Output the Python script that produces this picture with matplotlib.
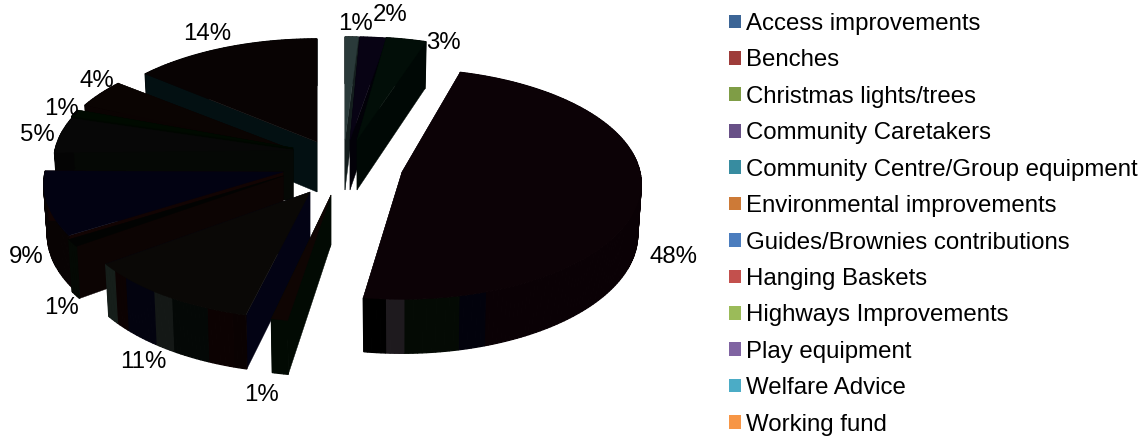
import numpy as np
import matplotlib
matplotlib.use('Agg')
import matplotlib.pyplot as plt
from matplotlib.patches import Patch, Polygon

plt.rcParams['font.family'] = ['Liberation Sans', 'DejaVu Sans']

categories = ['Access improvements', 'Benches', 'Christmas lights/trees', 'Community Caretakers',
	'Community Centre/Group equipment', 'Environmental improvements', 'Guides/Brownies contributions',
	'Hanging Baskets', 'Highways Improvements', 'Play equipment', 'Welfare Advice', 'Working fund']
values = [1, 2, 3, 48, 1, 11, 1, 9, 5, 1, 4, 14]

legend_colors = ['#3c6596', '#9e3c3a', '#7f9d46', '#685087', '#378ca0', '#cd7a37',
	'#4b7dbe', '#c3504d', '#9bbb59', '#8064a2', '#4bacc6', '#f79646']
top_colors = ['#2a3a3a', '#080314', '#020e08', '#0c0206', '#0f0503', '#0a0806',
	'#020302', '#020212', '#070707', '#000a00', '#0a0402', '#080303']
wall_colors = ['#141e1e', '#020108', '#000805', '#0a0105', '#020a03', '#030314',
	'#0c0403', '#120403', '#050805', '#000600', '#0a0302', '#031012']
rim_colors = ['#141c1c', '#050210', '#010704', '#0a0105', '#020a03', '#0a0202',
	'#040904', '#080303', '#040404', '#000500', '#060201', '#030303']

# where each exploded slice has its point, and how far its angles drift in the warped 3d view
apex_x = [345, 350, 357, 402, 331, 310, 283, 283, 293, 293, 293, 317]
apex_y = [140, 140, 140, 172, 195, 192, 176, 172, 150, 148, 150, 142]
twist = [0, -1, -3, -6, -5, -4, -3, -3, -5, -5, -1, 0]
draw_order = [11, 0, 1, 2, 10, 9, 8, 7, 6, 5, 4, 3]

# colour bands on the rim, degrees back from the end of the slice
rim_bands = {
	3: [(5, '#000000'), (4, '#1e1a1e'), (12, '#040a04'), (6, '#02020c')],
	5: [(4, '#161e1a'), (4, '#0c0202'), (9, '#03030f'), (5, '#141816'), (9, '#040806'), (6, '#0c0202')],
}

label_x = [356, 390, 443, 674, 261, 143, 62, 26, 37, 62, 97, 207]
label_y = [24, 15, 43, 257, 395, 362, 308, 257, 135, 109, 81, 34]

RX = 238
RY = 114
P = 0.105
H = 50
SHRINK = 0.015


def project(x0, y0, t, r=1, z=0):
	rad = np.radians(t)
	x = r*np.sin(rad)
	y = r*np.cos(rad)
	d = 1 + P*y
	s = 1 - SHRINK*z
	return x0 + RX*x/d*s, y0 - RY*y/d*s + H*z/d


def rim_color(i, t, t1):
	back = t1 - t
	if i in rim_bands:
		total = 0
		for width, color in rim_bands[i]:
			total += width
			if back <= total:
				return color
	return rim_colors[i]


def draw_wall(ax, i, t):
	x0, y0 = apex_x[i], apex_y[i]
	wall = [project(x0, y0, t, 0), project(x0, y0, t), project(x0, y0, t, 1, 1), project(x0, y0, t, 0, 1)]
	ax.add_patch(Polygon(wall, closed=True, facecolor=wall_colors[i], edgecolor=wall_colors[i], lw=0.3))


def draw_slice(ax, i, t0, t1):
	x0, y0 = apex_x[i], apex_y[i]
	angles = np.append(np.arange(t0, t1, 1.0), t1)
	# walls on the front half go under the rim, those on the back half over it
	front = [t for t in (t0, t1) if np.cos(np.radians(t)) < 0]
	back = [t for t in (t0, t1) if np.cos(np.radians(t)) >= 0]
	for t in front:
		draw_wall(ax, i, t)
	for a, b in zip(angles[:-1], angles[1:]):
		c = rim_color(i, a, t1)
		quad = [project(x0, y0, a), project(x0, y0, b), project(x0, y0, b, 1, 1), project(x0, y0, a, 1, 1)]
		ax.add_patch(Polygon(quad, closed=True, facecolor=c, edgecolor=c, lw=0.9))
	for t in back:
		draw_wall(ax, i, t)
	top = [project(x0, y0, 0, 0)] + [project(x0, y0, t) for t in angles]
	ax.add_patch(Polygon(top, closed=True, facecolor=top_colors[i], edgecolor=top_colors[i], lw=0.3))


fig = plt.figure(figsize=(11.46, 4.36), dpi=100)
ax = fig.add_axes([0, 0, 1, 1])
ax.set_xlim(0, 1146)
ax.set_ylim(436, 0)
ax.axis('off')

edges = np.cumsum([0] + values)*3.6
for i in draw_order:
	draw_slice(ax, i, edges[i] + twist[i], edges[i + 1] + twist[i])

for v, lx, ly in zip(values, label_x, label_y):
	ax.text(lx, ly, f'{v}%', fontsize=17.3, color='#000000', ha='center', va='center')

handles = [Patch(facecolor=c, edgecolor='none', label=n) for c, n in zip(legend_colors, categories)]
ax.legend(handles=handles, loc='upper left', bbox_to_anchor=(729/1146, 1 - 13/436), frameon=False,
	fontsize=17.3, handlelength=0.5, handleheight=0.5, handletextpad=0.2, labelspacing=0.6,
	borderpad=0, borderaxespad=0)

fig.savefig('out.png', dpi=100)
